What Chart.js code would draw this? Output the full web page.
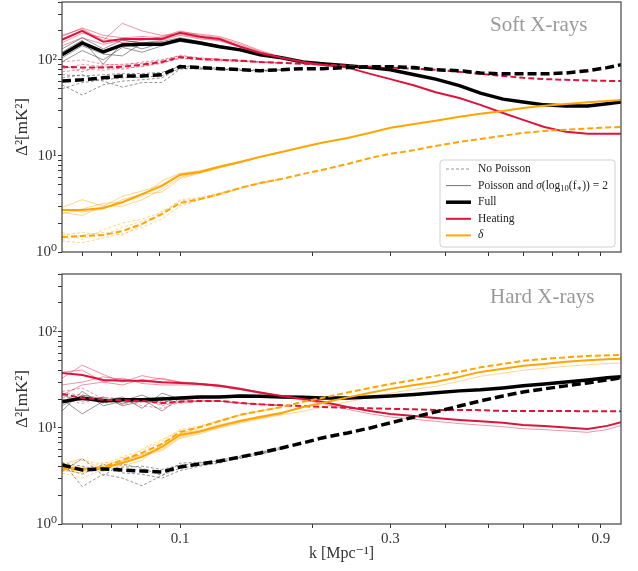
<!DOCTYPE html>
<html>
<head>
<meta charset="utf-8">
<script src="https://cdn.jsdelivr.net/npm/chart.js@4.4.0/dist/chart.umd.min.js"></script>
<style>
body { margin: 0; background: #fff; width: 638px; height: 571px; overflow: hidden; position: relative; }
#wrapTop { position: absolute; left: 0; top: -8px; width: 638px; height: 270px; }
#wrapBot { position: absolute; left: 0; top: 262px; width: 638px; height: 309px; }
</style>
</head>
<body>
<div id="wrapTop"><canvas id="soft"></canvas></div>
<div id="wrapBot"><canvas id="hard"></canvas></div>
<script>
// k bins [Mpc^-1]
var k = [0.054, 0.060, 0.067, 0.074, 0.082, 0.091, 0.100, 0.111, 0.123, 0.137, 0.152, 0.17, 0.19, 0.21,
         0.24, 0.27, 0.30, 0.34, 0.38, 0.43, 0.48, 0.54, 0.60, 0.67, 0.75, 0.84, 0.93, 1.00];

var xTicks = [0.06, 0.07, 0.08, 0.09, 0.1, 0.2, 0.3, 0.4, 0.5, 0.6, 0.7, 0.8, 0.9];
var xTickLabels = ['', '', '', '', '0.1', '', '0.3', '', '', '', '', '', '0.9'];
var yTicks = [1, 2, 3, 4, 5, 6, 7, 8, 9, 10, 20, 30, 40, 50, 60, 70, 80, 90, 100, 200, 300, 400];
var yTickLabels = {1: '10⁰', 10: '10¹', 100: '10²'};

// ---- Soft X-rays (top) ----
var softFull    = [113, 150, 121, 143, 145, 145, 162, 150, 137, 127, 113, 105, 95, 91, 87, 83, 79, 70, 63, 54, 45, 39, 36.5, 34, 33, 33, 35, 36.5];
var softFullNP  = [60.4, 62, 65, 68, 68, 70, 85, 83, 81, 79, 77, 79, 81, 81, 83, 85, 85, 83, 79, 77, 73, 71.5, 71.5, 71.5, 73, 77, 83, 89];
var softHeat    = [162, 200, 154, 165, 165, 165, 191, 174, 165, 137, 118, 105, 95, 89, 83, 71.5, 63, 54, 46, 40, 34, 28, 23.7, 20, 17.8, 17, 17, 17];
var softHeatNP  = [85, 83, 83, 85, 89, 95, 107, 102, 100, 98, 95, 93, 91, 89, 87, 85, 83, 81, 79, 75, 71.5, 68, 65, 63, 62, 61, 60.4, 60.4];
var softDelta   = [2.74, 2.74, 2.87, 3.3, 4.0, 4.87, 6.34, 6.8, 7.7, 8.66, 9.77, 11.0, 12.4, 13.7, 15.4, 17.4, 19.6, 21.5, 23.2, 25.5, 27.4, 29.4, 31.6, 33.2, 34.8, 36.1, 37.4, 38.3];
var softDeltaNP = [1.43, 1.47, 1.50, 1.65, 1.96, 2.49, 3.24, 3.56, 4.02, 4.64, 5.23, 5.76, 6.49, 7.15, 8.25, 9.53, 10.5, 11.5, 12.7, 14.0, 15.0, 16.2, 17.4, 18.2, 18.7, 19.3, 19.8, 20.0];

// single realisations (low k part, they sit under the mean line further on)
var softFullThin = [
  [95, 125, 100, 135, 120, 140, 155, 145, 135, 125, 112, 104],
  [120, 160, 90, 150, 130, 150, 160, 148, 138, 128, 114, 105],
  [105, 140, 115, 110, 150, 140, 165, 152, 140, 128, 113, 105],
  [130, 170, 130, 160, 150, 155, 170, 155, 140, 130, 115, 106]
];
var softFullNPThin = [
  [55, 43, 55, 60, 62, 65, 82, 80, 79, 78, 77, 78],
  [65, 70, 60, 52, 58, 58, 80, 82, 80, 78, 76, 78],
  [50, 58, 62, 65, 66, 68, 88, 84, 82, 80, 78, 79],
  [70, 68, 70, 72, 72, 74, 86, 82, 80, 78, 77, 79]
];
var softHeatThin = [
  [180, 210, 160, 240, 200, 180, 185, 170, 160, 140, 120, 105],
  [150, 190, 170, 150, 160, 175, 200, 180, 170, 145, 122, 106],
  [140, 170, 145, 160, 150, 160, 180, 165, 158, 135, 117, 104],
  [175, 215, 180, 170, 175, 170, 195, 185, 175, 150, 125, 107]
];
var softHeatNPThin = [
  [95, 100, 90, 88, 95, 100, 110, 105, 102, 98, 96, 93],
  [75, 80, 78, 82, 85, 92, 105, 100, 99, 97, 95, 93],
  [88, 75, 88, 90, 92, 98, 112, 104, 101, 99, 95, 92],
  [80, 90, 85, 80, 86, 93, 103, 101, 98, 96, 94, 92]
];
var softDeltaThin = [
  [2.9, 3.5, 3.0, 3.8, 4.3, 5.0, 6.5, 6.9, 7.8, 8.8, 9.9, 11.1],
  [2.6, 2.4, 3.0, 3.0, 3.5, 4.5, 6.0, 6.7, 7.6, 8.5, 9.7, 10.9],
  [2.8, 2.6, 2.8, 3.5, 4.0, 4.2, 5.8, 6.6, 7.5, 8.6, 9.8, 11.0],
  [2.5, 2.8, 3.2, 3.3, 3.8, 5.5, 6.6, 7.0, 7.9, 8.7, 9.8, 11.0]
];
var softDeltaNPThin = [
  [1.6, 1.35, 1.7, 2.0, 2.2, 2.6, 3.4, 3.6, 4.1, 4.7, 5.3, 5.8],
  [1.3, 1.25, 1.4, 1.55, 1.8, 2.2, 3.0, 3.5, 4.0, 4.6, 5.2, 5.7],
  [1.5, 1.6, 1.5, 1.8, 2.1, 2.4, 3.5, 3.7, 4.1, 4.6, 5.2, 5.8],
  [1.35, 1.5, 1.6, 1.5, 1.9, 2.7, 3.1, 3.5, 3.9, 4.6, 5.2, 5.7]
];

// ---- Hard X-rays (bottom) ----
var hardFull    = [18.7, 20.5, 19.1, 19.6, 19.6, 20.0, 20.5, 21.0, 21.0, 21.5, 21.3, 21.0, 20.8, 20.5, 20.5, 21.0, 21.5, 22.3, 23.2, 24.3, 24.9, 26.1, 27.4, 28.7, 30.1, 31.6, 33.2, 34.0];
var hardFullNP  = [4.12, 3.65, 3.74, 3.65, 3.56, 3.48, 3.92, 4.22, 4.53, 4.99, 5.49, 6.19, 6.98, 7.87, 8.87, 10.0, 11.3, 13.0, 14.7, 16.9, 19.1, 21.5, 23.7, 25.5, 27.4, 29.4, 31.6, 33.2];
var hardHeat    = [37.4, 35.6, 31.6, 30.9, 30.9, 29.8, 29.4, 28.7, 27.4, 25.5, 23.4, 21.5, 20.0, 18.7, 16.5, 15.0, 14.0, 13.3, 12.7, 12.1, 11.7, 11.3, 10.7, 10.5, 10.1, 9.77, 10.5, 11.5];
var hardHeatNP  = [22.6, 20.5, 19.6, 19.4, 19.1, 18.2, 18.7, 19.1, 19.1, 18.2, 17.6, 17.2, 16.9, 16.5, 16.2, 16.0, 15.8, 15.6, 15.4, 15.4, 15.3, 15.0, 15.0, 15.0, 15.0, 14.9, 14.9, 14.9];
var hardDelta   = [3.92, 3.74, 3.83, 4.32, 4.99, 6.34, 8.45, 9.2, 10.5, 11.8, 13.0, 14.3, 16.5, 18.2, 20.8, 23.2, 25.5, 28.0, 30.1, 34.0, 38.3, 41.2, 44.3, 46.4, 48.7, 50.6, 51.9, 52.5];
var hardDeltaNP = [3.74, 3.65, 3.92, 4.64, 5.49, 6.81, 9.08, 10.2, 11.8, 13.7, 15.0, 16.5, 18.7, 20.5, 23.4, 26.1, 28.7, 31.6, 34.8, 38.3, 42.7, 46.4, 49.9, 52.3, 54.2, 56.2, 56.9, 57.5];

var hardFullThin = [
  [15, 24, 17, 19, 22, 18, 21, 21.5, 21, 21.5, 21.3, 21],
  [20, 14, 19, 21, 16, 23, 20, 20.5, 21, 21.3, 21.2, 21],
  [17, 22, 20, 18, 20, 15, 20.5, 21, 21.5, 22, 21.5, 21.1],
  [22, 19, 21, 17, 19, 21, 19.5, 20.5, 20.8, 21.2, 21.2, 21]
];
var hardFullNPThin = [
  [4.5, 2.45, 3.3, 3.0, 2.5, 3.2, 3.8, 4.1, 4.4, 4.8, 5.3, 6.0],
  [3.5, 4.8, 3.2, 4.2, 3.8, 3.2, 4.3, 4.4, 4.5, 4.9, 5.4, 6.1],
  [3.8, 3.3, 4.2, 3.4, 3.3, 3.0, 3.6, 4.0, 4.3, 5.0, 5.6, 6.3],
  [4.3, 4.0, 3.6, 3.9, 4.0, 3.7, 4.1, 4.3, 4.6, 5.1, 5.5, 6.2]
];
var hardHeatThin = [
  [33, 45, 36, 30, 35, 32, 30, 29, 28, 26, 23.5, 21.5],
  [28, 30, 34, 32, 30, 33, 30, 29, 27.5, 25.5, 23.4, 21.5],
  [38, 40, 30, 33, 29, 28, 28, 28, 27, 25, 23, 21.3],
  [22, 28, 30, 28, 32, 30, 29.5, 28.5, 27, 25, 23, 21.2, 19.4, 18.0, 15.6, 14.0, 13.0, 12.3, 11.7, 11.1, 10.7, 10.3, 9.8, 9.6, 9.3, 9.0, 9.6, 10.6]
];
var hardHeatNPThin = [
  [24, 26, 20, 18, 20, 17, 19, 19.5, 19, 18.3, 17.6, 17.2],
  [20, 18, 21, 20, 17, 16, 18.5, 19, 19.2, 18.2, 17.7, 17.2],
  [23, 22, 18, 19.5, 18.5, 19, 18, 18.8, 18.9, 18, 17.5, 17.1],
  [21, 19.5, 20.5, 17.5, 20, 17.5, 19, 19.2, 19, 18.1, 17.6, 17.2]
];
var hardDeltaThin = [
  [4.2, 4.8, 3.6, 4.5, 5.3, 6.0, 8.0, 9.0, 10.2, 11.5, 12.7, 14.0],
  [3.6, 3.4, 4.1, 4.0, 4.6, 6.8, 8.8, 9.5, 10.8, 12.0, 13.3, 14.5],
  [4.0, 3.9, 3.5, 4.6, 5.1, 5.8, 7.8, 8.7, 10.0, 11.2, 12.4, 13.7, 14.9, 16.4, 18.7, 20.9, 23.0, 25.2, 27.1, 30.6, 34.5, 37.1, 39.9, 41.8, 43.8, 45.5, 46.7, 47.3]
];
var hardDeltaNPThin = [
  [4.0, 4.6, 4.2, 5.0, 5.8, 7.3, 9.6, 10.5, 12.0, 13.8, 15.1, 16.6],
  [3.4, 3.0, 3.7, 4.9, 5.2, 6.5, 8.7, 10.0, 11.6, 13.5, 14.9, 16.4],
  [3.9, 3.6, 4.4, 4.3, 6.0, 7.6, 9.3, 10.3, 11.9, 13.7, 15.0, 16.5]
];

var RED = '#DC143C', ORANGE = '#FFA500', BLACK = '#000000';
var RED_T = 'rgba(220,20,60,0.45)', ORANGE_T = 'rgba(255,165,0,0.45)', GREY_T = 'rgba(80,80,80,0.6)';
var SERIF = '"Liberation Serif", "DejaVu Serif", serif';

Chart.defaults.font.family = SERIF;
Chart.defaults.color = '#333';

function line(vals, color, width, dash, order) {
    return {
        data: vals.map(function(v, i) { return {x: k[i], y: v}; }),
        borderColor: color,
        borderWidth: width,
        borderDash: dash || [],
        pointRadius: 0,
        fill: false,
        tension: 0,
        order: order
    };
}

function thin(list, color, dash) {
    return list.map(function(v) { return line(v, color, 1, dash, 9); });
}

function buildSets(full, fullNP, heat, heatNP, delta, deltaNP, fT, fnT, hT, hnT, dT, dnT) {
    var sets = [];
    sets = sets.concat(thin(fT, GREY_T), thin(fnT, GREY_T, [3, 2]),
                       thin(hT, RED_T), thin(hnT, RED_T, [3, 2]),
                       thin(dT, ORANGE_T), thin(dnT, ORANGE_T, [3, 2]));
    sets.push(line(full, BLACK, 3.5, [], 4));
    sets.push(line(heat, RED, 2, [], 3));
    sets.push(line(heatNP, RED, 2, [6, 3], 3));
    sets.push(line(delta, ORANGE, 2, [], 2));
    sets.push(line(deltaNP, ORANGE, 2, [6, 3], 2));
    sets.push(line(fullNP, BLACK, 3.5, [9, 4], 1));
    return sets;
}

// rich text piece by piece (for the sigma label)
function drawRich(ctx, parts, x, y) {
    parts.forEach(function(p) {
        ctx.font = (p.italic ? 'italic ' : '') + (p.size || 11.5) + 'px ' + SERIF;
        ctx.fillText(p.t, x, y + (p.dy || 0));
        x += ctx.measureText(p.t).width;
    });
}

var panelPlugin = {
    id: 'panel',
    afterDatasetsDraw: function(chart, args, opts) {
        var ctx = chart.ctx, a = chart.chartArea;
        ctx.save();
        ctx.strokeStyle = '#444';
        ctx.lineWidth = 1.2;
        ctx.strokeRect(a.left, a.top, a.right - a.left, a.bottom - a.top);

        ctx.fillStyle = '#999';
        ctx.font = '21px ' + SERIF;
        ctx.textAlign = 'left';
        ctx.textBaseline = 'middle';
        ctx.fillText(opts.label, a.left + 428, a.top + 23);

        if (opts.legend) {
            var bx = a.right - 181, by = a.top + 158, bw = 175, bh = 87;
            ctx.beginPath();
            ctx.roundRect(bx, by, bw, bh, 3);
            ctx.fillStyle = 'rgba(255,255,255,0.85)';
            ctx.fill();
            ctx.strokeStyle = '#d0d0d0';
            ctx.lineWidth = 1;
            ctx.stroke();

            var items = [
                {color: GREY_T, w: 1, dash: [3, 2], parts: [{t: 'No Poisson'}]},
                {color: 'rgba(80,80,80,0.8)', w: 1, dash: [], parts: [
                    {t: 'Poisson and '}, {t: 'σ', italic: true}, {t: '(log'}, {t: '10', size: 8.5, dy: 3},
                    {t: '(f'}, {t: '∗', size: 8.5, dy: 3}, {t: ')) = 2'}]},
                {color: BLACK, w: 3.5, dash: [], parts: [{t: 'Full'}]},
                {color: RED, w: 2, dash: [], parts: [{t: 'Heating'}]},
                {color: ORANGE, w: 2, dash: [], parts: [{t: 'δ', italic: true}]}
            ];
            items.forEach(function(it, i) {
                var yy = by + 9 + i * 16.6;
                ctx.beginPath();
                ctx.setLineDash(it.dash);
                ctx.strokeStyle = it.color;
                ctx.lineWidth = it.w;
                ctx.moveTo(bx + 6, yy);
                ctx.lineTo(bx + 31, yy);
                ctx.stroke();
                ctx.setLineDash([]);
                ctx.fillStyle = '#222';
                drawRich(ctx, it.parts, bx + 38, yy);
            });
        }
        ctx.restore();
    }
};

function makeChart(id, sets, label, showLegend, bottom) {
    return new Chart(document.getElementById(id), {
        type: 'line',
        data: {datasets: sets},
        plugins: [panelPlugin],
        options: {
            responsive: true,
            maintainAspectRatio: false,
            animation: false,
            devicePixelRatio: 1,
            layout: {padding: {left: 0, right: 17, top: bottom ? 12 : 2, bottom: 0}},
            plugins: {
                legend: {display: false},
                tooltip: {enabled: false},
                panel: {label: label, legend: showLegend}
            },
            scales: {
                x: {
                    type: 'logarithmic',
                    min: 0.054,
                    max: 1.0,
                    afterBuildTicks: function(s) { s.ticks = xTicks.map(function(v) { return {value: v}; }); },
                    afterFit: function(s) { s.height = bottom ? 47 : 10; },
                    ticks: {
                        autoSkip: false,
                        maxRotation: 0,
                        padding: 2,
                        color: '#333',
                        font: {size: 15},
                        callback: function(v, i) { return bottom ? xTickLabels[i] : ''; }
                    },
                    grid: {drawOnChartArea: false, drawTicks: true, tickLength: 4, color: '#333'},
                    border: {display: false},
                    title: {display: bottom, text: 'k [Mpc⁻¹]', font: {size: 16}, color: '#333', padding: {top: 0, bottom: 8}}
                },
                y: {
                    type: 'logarithmic',
                    min: 1,
                    max: 400,
                    afterBuildTicks: function(s) { s.ticks = yTicks.map(function(v) { return {value: v}; }); },
                    afterFit: function(s) { s.width = 62; },
                    ticks: {
                        autoSkip: false,
                        padding: 1,
                        color: '#333',
                        font: {size: 15},
                        callback: function(v) { return yTickLabels[v] || ''; }
                    },
                    grid: {drawOnChartArea: false, drawTicks: true, tickLength: 4, color: '#333'},
                    border: {display: false},
                    title: {display: true, text: 'Δ²[mK²]', font: {size: 17}, color: '#333', padding: {top: 12, bottom: 4}}
                }
            }
        }
    });
}

makeChart('soft', buildSets(softFull, softFullNP, softHeat, softHeatNP, softDelta, softDeltaNP,
    softFullThin, softFullNPThin, softHeatThin, softHeatNPThin, softDeltaThin, softDeltaNPThin), 'Soft X-rays', true, false);
makeChart('hard', buildSets(hardFull, hardFullNP, hardHeat, hardHeatNP, hardDelta, hardDeltaNP,
    hardFullThin, hardFullNPThin, hardHeatThin, hardHeatNPThin, hardDeltaThin, hardDeltaNPThin), 'Hard X-rays', false, true);
</script>
</body>
</html>
